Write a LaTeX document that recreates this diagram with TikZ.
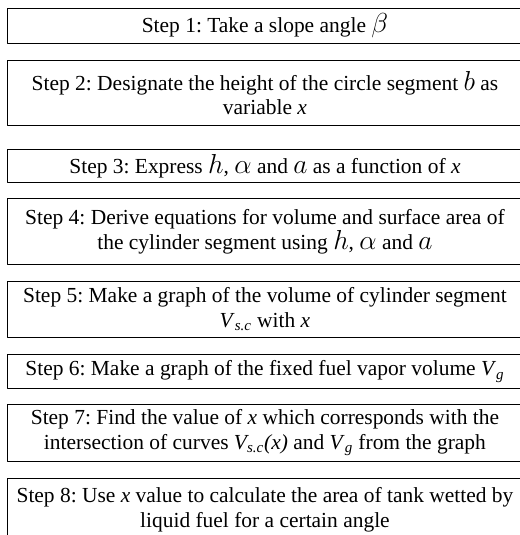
\documentclass[tikz,border=0pt]{standalone}
\usepackage{fontspec}
\setmainfont{Liberation Serif}
\frenchspacing
\newcommand{\bigvar}[1]{{\fontsize{17}{15.5}\selectfont$#1$}}
\newcommand{\Vsc}{\textit{V}\textsubscript{\textit{s.c}}}
\newcommand{\Vg}{\textit{V}\textsubscript{\textit{g}}}
\begin{document}
\begin{tikzpicture}[x=1cm,y=1cm,line cap=round,line join=round,
  stepbox/.style={draw=black,line width=.6pt,anchor=north west,inner sep=0pt,
    minimum width=11.39cm,align=center,font=\fontsize{13.5}{15.5}\selectfont}]
\useasboundingbox (0,0) rectangle (11.5,11.834);
% Acht Schritte, jeweils ein Kasten, rechts angeschnitten.
\node[stepbox,minimum height=.77cm] (s1) at (.155,11.66){Step 1: Take a slope angle \bigvar{\beta}};
\node[stepbox,minimum height=1.45cm] (s2) at (.155,10.51){Step 2: Designate the height of the circle segment \bigvar{b} as\\variable \textit{x}};
\node[stepbox,minimum height=.73cm] (s3) at (.155,8.54){Step 3: Express \bigvar{h}, \bigvar{\alpha} and \bigvar{a} as a function of \textit{x}};
\node[stepbox,minimum height=1.46cm] (s4) at (.155,7.45){Step 4: Derive equations for volume and surface area of\\the cylinder segment using \bigvar{h}, \bigvar{\alpha} and \bigvar{a}};
\node[stepbox,minimum height=1.24cm] (s5) at (.155,5.62){Step 5: Make a graph of the volume of cylinder segment\\\Vsc{} with \textit{x}};
\node[stepbox,minimum height=.75cm] (s6) at (.155,4.0){Step 6: Make a graph of the fixed fuel vapor volume \Vg};
\node[stepbox,minimum height=1.26cm] (s7) at (.155,2.9){Step 7: Find the value of \textit{x} which corresponds with the\\intersection of curves \textit{V\textsubscript{s.c}(x)} and \Vg{} from the graph};
\node[stepbox,minimum height=1.37cm] (s8) at (.155,1.26){Step 8: Use \textit{x} value to calculate the area of tank wetted by\\liquid fuel for a certain angle};
\end{tikzpicture}
\end{document}
